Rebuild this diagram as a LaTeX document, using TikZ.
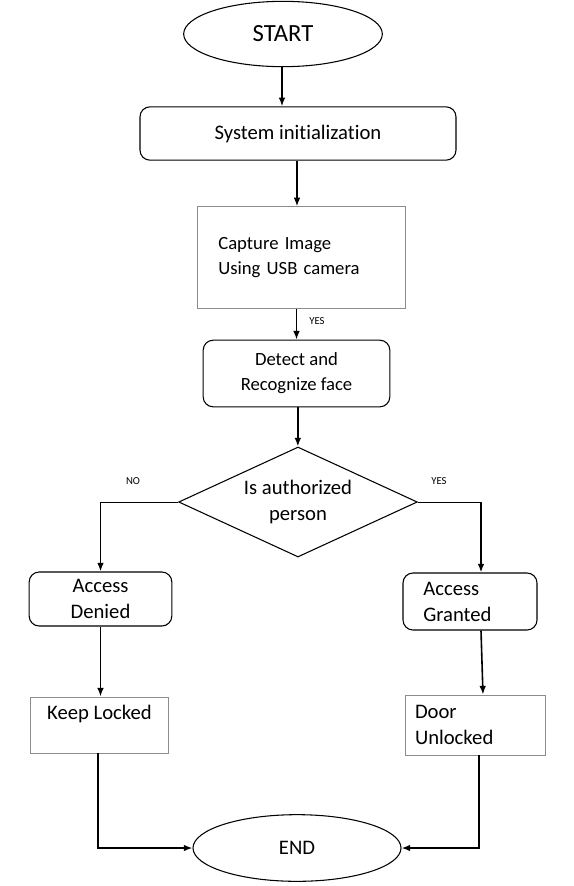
\documentclass[tikz,border=0pt]{standalone}
\usepackage{fontspec}
\setmainfont{Carlito}[Ligatures=NoCommon]
\usetikzlibrary{shapes.geometric,arrows.meta,calc}
\definecolor{boxgray}{gray}{0.55}
\tikzset{
  terminal/.style={
    draw,
    shape = ellipse,
    inner sep = 0pt,
    line width = 0.8pt,
    font=\fontsize{15.5}{18}\selectfont
  },
  stepround/.style={
    draw,
    rounded corners = 7.5pt,
    inner sep = 0pt,
    line width = 0.8pt,
    align = center,
    font=\fontsize{15.5}{19.5}\selectfont
  },
  stepplain/.style={
    draw = boxgray,
    inner sep = 0pt,
    line width = 0.7pt,
    font=\fontsize{15.5}{19.5}\selectfont
  },
  decision/.style={
    draw,
    shape = diamond,
    aspect = 2.17,
    inner sep = 0pt,
    line width = 0.8pt,
    align = center,
    font=\fontsize{15.5}{20}\selectfont
  },
  flow/.style={
    line width = 1.2pt,
    -{Latex[length=6.5pt,width=5pt]}
  },
  branch/.style={
    line width = 0.6pt
  },
  tag/.style={
    font=\fontsize{8}{9}\selectfont
  }
}
\begin{document}
\begin{tikzpicture}[x=0.75pt,y=-0.75pt]
  \useasboundingbox (0,0) rectangle (574,886);
  % nodes
  \node[terminal, minimum width=149pt, minimum height=49pt, font=\fontsize{18.5}{20}\selectfont] (start) at (283,34) {START};
  \node[stepround, minimum width=237pt, minimum height=40pt] (init) at (298,133.5) {System initialization};
  \node[stepplain, minimum width=156pt, minimum height=76pt, text width=124pt, inner xsep=16pt, align=left,
        font=\fontsize{14}{18.75}\selectfont] (capture) at (301,257.5) {Capture Image\\Using USB camera};
  \node[stepround, minimum width=140pt, minimum height=50pt, font=\fontsize{14}{18.75}\selectfont] (detect) at (296.5,373.5) {Detect and\\Recognize face};
  \node[decision, minimum width=179pt, minimum height=82.5pt] (decide) at (298,502) {Is authorized\\person};
  \node[stepround, minimum width=107pt, minimum height=40.5pt] (denied) at (100.5,599) {Access\\Denied};
  \node[stepround, minimum width=100.5pt, minimum height=42.75pt, text width=70pt, inner xsep=15pt, align=left] (granted) at (470,601.5) {Access\\Granted};
  \node[stepplain, minimum width=103pt, minimum height=42pt, align=center] (locked) at (99.5,725) {Keep Locked\\\mbox{}};
  \node[stepplain, minimum width=105pt, minimum height=45pt, text width=90pt, inner xsep=6.75pt, align=left,
        font=\fontsize{15.5}{20}\selectfont] (unlocked) at (475,725) {Door\\Unlocked};
  \node[terminal, minimum width=156pt, minimum height=50pt] (end) at (297,848) {END};
  % labels
  \node[tag] (yes1) at (317,321) {YES};
  \node[tag] (no) at (133,481) {NO};
  \node[tag] (yes2) at (439,481) {YES};
  %
  \draw[flow] ([xshift=-0.75pt]start.south) -- ([xshift=-0.75pt]start.south |- init.north);
  \draw[flow] ([xshift=-0.75pt]init.south) -- ([xshift=-0.75pt]init.south |- capture.north);
  \draw[flow] (detect.north |- capture.south) -- (detect.north);
  \draw[flow] ([xshift=1pt]detect.south) -- ([xshift=1pt]detect.south |- decide.north);
  \draw[branch] (decide.west) -- (decide.west -| denied.north);
  \draw[flow] (decide.west -| denied.north) -- (denied.north);
  \draw[branch] (decide.east) -- (decide.east -| {$(granted.north)+(8.25pt,0)$});
  \draw[flow] ([xshift=8.25pt]granted.north |- decide.east) -- ([xshift=8.25pt]granted.north);
  \draw[flow] (denied.south) -- (denied.south |- locked.north);
  \draw[flow] ([xshift=8.25pt]granted.south) -- ([xshift=6pt]unlocked.north);
  \draw[flow] ([xshift=-1pt]locked.south) |- (end.west);
  \draw[flow] ([xshift=3pt]unlocked.south) |- (end.east);
\end{tikzpicture}
\end{document}
